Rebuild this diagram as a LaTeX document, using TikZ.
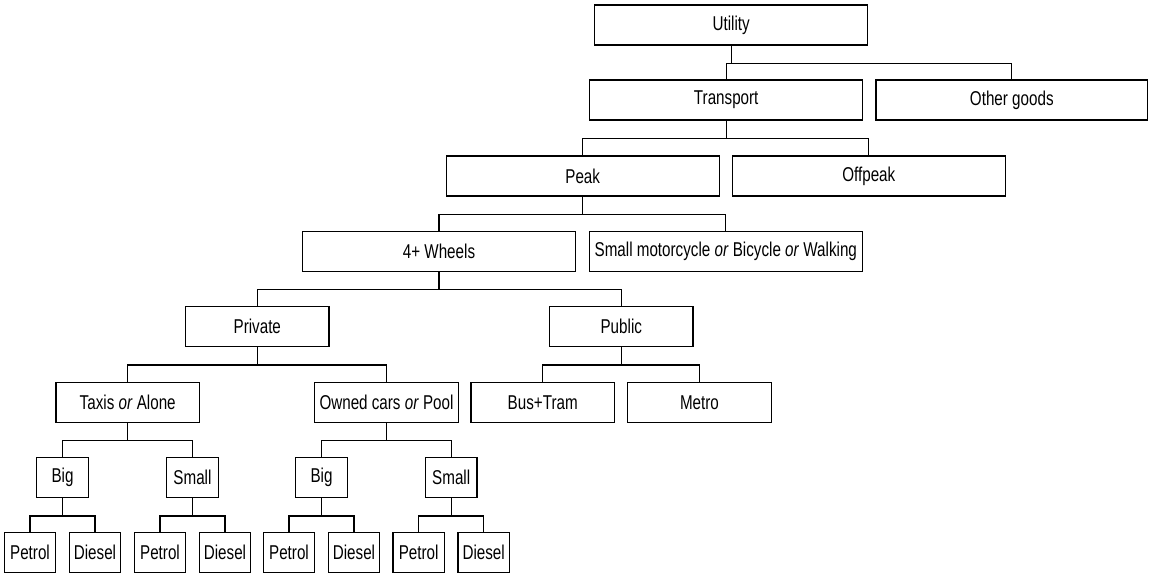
\documentclass[tikz,border=0pt]{standalone}
\usepackage{fontspec}
\setmainfont{Liberation Sans}[FakeStretch=0.76]
\begin{document}
\begin{tikzpicture}[x=0.75pt,y=-0.75pt,
  box/.style={draw=black,line width=0.9pt,rectangle,inner sep=0pt,minimum height=30pt,
    font=\fontsize{15pt}{17pt}\selectfont,text=black},
  wide/.style={box,minimum width=204.75pt},
  mid/.style={box,minimum width=107.6pt},
  tiny/.style={box,minimum width=38.6pt},
  link/.style={draw=black,line width=0.9pt}]
\useasboundingbox (0,0) rectangle (1149,577);
% level 0-3
\node[wide] (util) at (731.2,25) {Utility};
\node[wide] (trans) at (726.2,100) {Transport};
\node[wide,minimum width=203.8pt] (other) at (1011.8,100) {Other goods};
\node[wide] (peak) at (582.7,176) {Peak};
\node[wide] (offpeak) at (868.8,176) {Offpeak};
\node[wide] (wheels) at (439,251.3) {4+ Wheels};
\node[wide] (moto) at (725.8,251.3) {Small motorcycle \textit{or} Bicycle \textit{or} Walking};
% level 4-5
\node[mid] (priv) at (257.3,326.7) {Private};
\node[mid] (pub) at (621.3,326.7) {Public};
\node[mid] (taxis) at (127.7,402.3) {Taxis \textit{or} Alone};
\node[mid] (owned) at (386.5,402.3) {Owned cars \textit{or} Pool};
\node[mid] (bus) at (542.7,402.3) {Bus+Tram};
\node[mid] (metro) at (699.5,402.3) {Metro};
% level 6
\node[tiny] (big1) at (62.5,477.7) {Big};
\node[tiny] (small1) at (192.5,477.7) {Small};
\node[tiny] (big2) at (321.5,477.7) {Big};
\node[tiny] (small2) at (451.2,477.7) {Small};
% level 7
\node[tiny] (p1) at (30,552.7) {Petrol};
\node[tiny] (d1) at (95,552.7) {Diesel};
\node[tiny] (p2) at (160,552.7) {Petrol};
\node[tiny] (d2) at (225,552.7) {Diesel};
\node[tiny] (p3) at (289,552.7) {Petrol};
\node[tiny] (d3) at (354,552.7) {Diesel};
\node[tiny] (p4) at (418.7,552.7) {Petrol};
\node[tiny] (d4) at (483.7,552.7) {Diesel};
% connectors
\foreach \p/\c in {util/trans,util/other,trans/peak,trans/offpeak,peak/wheels,peak/moto,
  wheels/priv,wheels/pub,priv/taxis,priv/owned,pub/bus,pub/metro,
  taxis/big1,taxis/small1,owned/big2,owned/small2,
  big1/p1,big1/d1,small1/p2,small1/d2,big2/p3,big2/d3,small2/p4,small2/d4}
  \draw[link] (\p.south) -- ++(0,17.7) -| (\c.north);
\end{tikzpicture}
\end{document}
